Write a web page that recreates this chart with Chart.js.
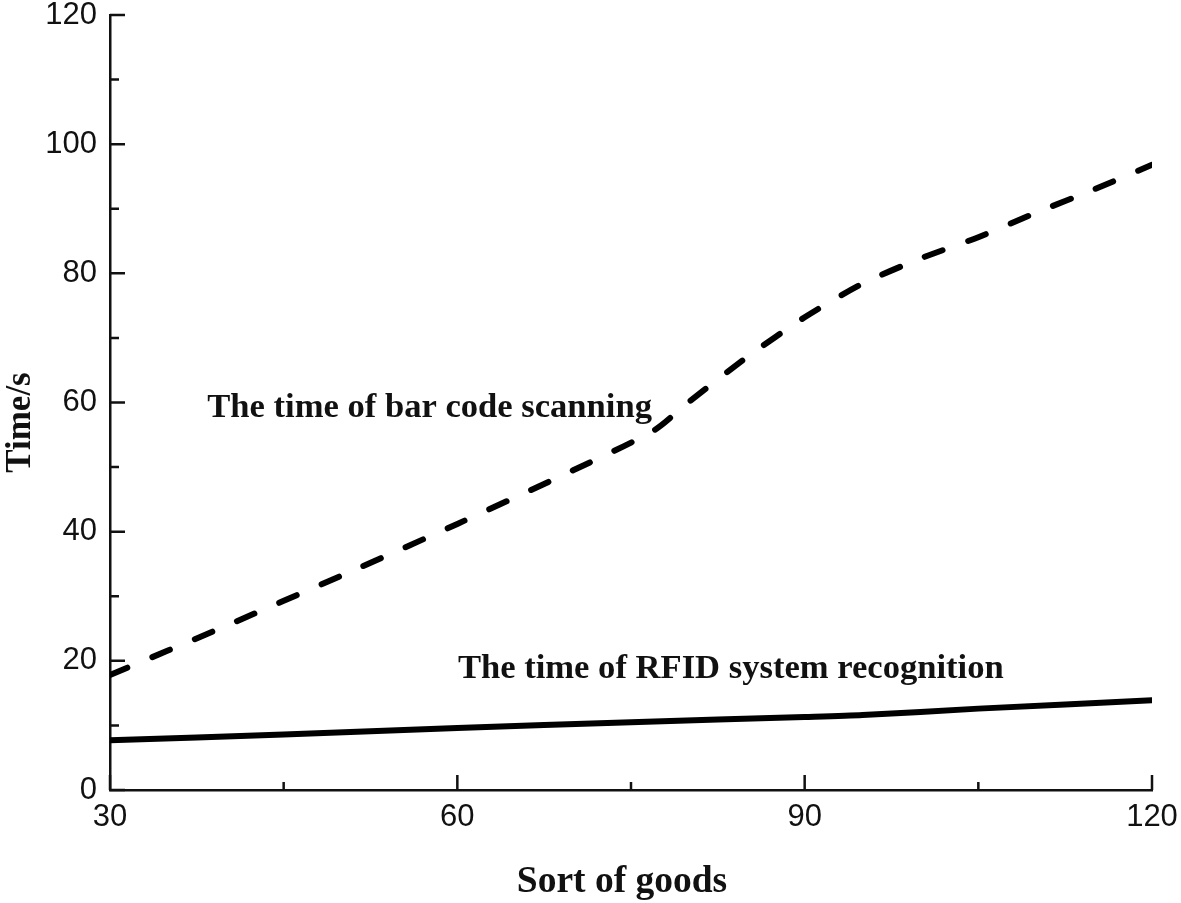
<!DOCTYPE html>
<html>
<head>
<meta charset="utf-8">
<script src="https://cdn.jsdelivr.net/npm/chart.js@4"></script>
<style>
html,body{margin:0;padding:0;background:#fff;}
#wrap{width:1181px;height:903px;}
</style>
</head>
<body>
<div id="wrap"><canvas id="c" width="1181" height="903"></canvas></div>
<script>
// ---- data ----
const barcodeX = [30, 40, 50, 60, 70, 77, 80, 85, 90, 95, 100, 105, 110, 115, 120];
const barcodeY = [17.8, 25.4, 33.2, 41.2, 49.5, 55.7, 60.1, 67.0, 73.2, 78.4, 82.3, 85.6, 89.4, 93.0, 96.8];
const rfidX = [30, 45, 60, 75, 90, 95, 105, 120];
const rfidY = [7.7, 8.6, 9.6, 10.5, 11.3, 11.6, 12.6, 13.9];
const xTicks = [30, 60, 90, 120];
const yTicks = [0, 20, 40, 60, 80, 100, 120];
const xMinorTicks = [45, 75, 105];
const yMinorTicks = [10, 30, 50, 70, 90, 110];
const labelBarcode = "The time of bar code scanning";
const labelRfid = "The time of RFID system recognition";
const xTitle = "Sort of goods";
const yTitle = "Time/s";

const pts = (xs, ys) => xs.map((x, i) => ({x: x, y: ys[i]}));

const serif = "'Liberation Serif', 'Times New Roman', serif";

const tickPlugin = {
  id: 'inwardTicks',
  afterDraw(chart) {
    const ctx = chart.ctx;
    const xs = chart.scales.x, ys = chart.scales.y;
    const ca = chart.chartArea;
    const left = ca.left, bottom = ca.bottom;
    ctx.save();
    ctx.strokeStyle = '#111';
    ctx.lineWidth = 2.5;
    ctx.lineCap = 'butt';
    ctx.beginPath();
    xTicks.forEach(v => { const p = xs.getPixelForValue(v); ctx.moveTo(p, bottom); ctx.lineTo(p, bottom - 15); });
    xMinorTicks.forEach(v => { const p = xs.getPixelForValue(v); ctx.moveTo(p, bottom); ctx.lineTo(p, bottom - 8); });
    yTicks.forEach(v => { const p = ys.getPixelForValue(v); ctx.moveTo(left, p); ctx.lineTo(left + 15, p); });
    yMinorTicks.forEach(v => { const p = ys.getPixelForValue(v); ctx.moveTo(left, p); ctx.lineTo(left + 9, p); });
    ctx.stroke();
    // annotations
    ctx.fillStyle = '#111';
    ctx.font = "bold 34.6px " + serif;
    ctx.textAlign = 'left';
    ctx.textBaseline = 'middle';
    ctx.fillText(labelBarcode, xs.getPixelForValue(38.4), ys.getPixelForValue(59.2));
    ctx.fillText(labelRfid, xs.getPixelForValue(60.05), ys.getPixelForValue(18.8));
    // x axis title
    ctx.textAlign = 'center';
    ctx.font = "bold 37.5px " + serif;
    ctx.fillText(xTitle, (ca.left + ca.right) / 2 - 9, bottom + 92);
    // y axis title
    ctx.save();
    ctx.translate(left - 89, (ca.top + ca.bottom) / 2 + 20);
    ctx.rotate(-Math.PI / 2);
    ctx.textAlign = 'center';
    ctx.font = "bold 35px " + serif;
    ctx.fillText(yTitle, 0, 0);
    ctx.restore();
    ctx.restore();
  }
};

const zeroPad = s => { s.paddingTop = 0; s.paddingBottom = 0; s.paddingLeft = 0; s.paddingRight = 0; };

new Chart(document.getElementById('c'), {
  type: 'line',
  data: {
    datasets: [
      {
        label: labelBarcode,
        data: pts(barcodeX, barcodeY),
        borderColor: '#000',
        borderWidth: 6,
        borderDash: [19, 27],
        borderCapStyle: 'round',
        pointRadius: 0,
        tension: 0.25,
        fill: false
      },
      {
        label: labelRfid,
        data: pts(rfidX, rfidY),
        borderColor: '#000',
        borderWidth: 6,
        borderCapStyle: 'round',
        pointRadius: 0,
        tension: 0.25,
        fill: false
      }
    ]
  },
  options: {
    responsive: false,
    animation: false,
    devicePixelRatio: 1,
    layout: { padding: { left: 0, right: 29, top: 15, bottom: 0 } },
    plugins: { legend: { display: false }, tooltip: { enabled: false } },
    scales: {
      x: {
        type: 'linear',
        min: 30, max: 120,
        afterBuildTicks: s => { s.ticks = xTicks.map(v => ({value: v})); },
        afterFit: s => { s.height = 113; zeroPad(s); },
        grid: { display: false, drawTicks: false, tickLength: 0 },
        border: { display: true, color: '#111', width: 2.5 },
        ticks: { color: '#111', padding: 9, font: { family: "'Liberation Sans', Arial, sans-serif", size: 31 }, maxRotation: 0 },
        title: { display: false }
      },
      y: {
        type: 'linear',
        min: 0, max: 120,
        afterBuildTicks: s => { s.ticks = yTicks.map(v => ({value: v})); },
        afterFit: s => { s.width = 110; zeroPad(s); },
        grid: { display: false, drawTicks: false, tickLength: 0 },
        border: { display: true, color: '#111', width: 2.5 },
        ticks: { color: '#111', padding: 13, font: { family: "'Liberation Sans', Arial, sans-serif", size: 31 } },
        title: { display: false }
      }
    }
  },
  plugins: [tickPlugin]
});
</script>
</body>
</html>
